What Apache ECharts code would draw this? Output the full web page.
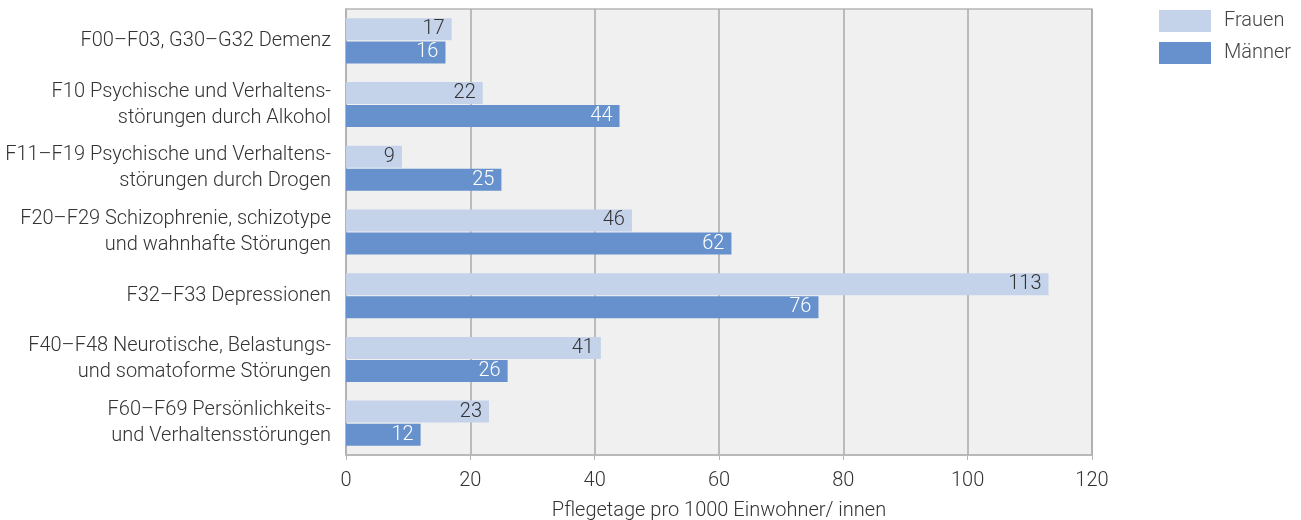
<!DOCTYPE html>
<html>
<head>
<meta charset="utf-8">
<script src="https://cdn.jsdelivr.net/npm/echarts@6/dist/echarts.min.js"></script>
<style>
  html, body { margin: 0; padding: 0; background: #fff; }
  #chart { width: 1301px; height: 520px; }
</style>
</head>
<body>
<div id="chart"></div>
<script>
// Diagnosegruppen (top to bottom)
const categories = [
  'F00\u2013F03, G30\u2013G32 Demenz',
  'F10 Psychische und Verhaltens-\nstörungen durch Alkohol',
  'F11\u2013F19 Psychische und Verhaltens-\nstörungen durch Drogen',
  'F20\u2013F29 Schizophrenie, schizotype\nund wahnhafte Störungen',
  'F32\u2013F33 Depressionen',
  'F40\u2013F48 Neurotische, Belastungs-\nund somatoforme Störungen',
  'F60\u2013F69 Persönlichkeits-\nund Verhaltensstörungen'
]
const frauen = [17, 22, 9, 46, 113, 41, 23]
const maenner = [16, 44, 25, 62, 76, 26, 12]
const xTicks = { min: 0, max: 120, interval: 20 }

const font = 'Roboto, "DejaVu Sans", sans-serif'
const fs = 20
const chart = echarts.init(document.getElementById('chart'))

chart.setOption({
  textStyle: { fontFamily: font, fontWeight: 300 },
  animation: false,
  legend: {
    data: ['Frauen', 'Männer'],
    orient: 'vertical',
    left: 1154,
    top: 5,
    itemWidth: 52,
    itemHeight: 22,
    itemGap: 10,
    icon: 'rect',
    textStyle: { fontSize: fs, fontWeight: 300, color: '#444', fontFamily: font, padding: [4, 0, 0, 8] }
  },
  grid: {
    left: 346,
    right: 209,
    top: 9,
    bottom: 65,
    outerBoundsMode: 'none',
    show: true,
    backgroundColor: '#f0f0f0',
    borderColor: '#b5b5b5',
    borderWidth: 1.5
  },
  xAxis: {
    type: 'value',
    min: xTicks.min,
    max: xTicks.max,
    interval: xTicks.interval,
    name: 'Pflegetage pro 1000 Einwohner/ innen',
    nameLocation: 'middle',
    nameGap: 46,
    nameTextStyle: { fontSize: fs, fontWeight: 300, color: '#333', fontFamily: font },
    axisLine: { show: true, lineStyle: { color: '#b5b5b5', width: 1.5 } },
    axisTick: { show: true, length: 5, lineStyle: { color: '#b5b5b5' } },
    axisLabel: { fontSize: fs, fontWeight: 300, color: '#333', margin: 16, fontFamily: font },
    splitLine: { show: true, lineStyle: { color: '#aaaaaa', width: 1.5 } }
  },
  yAxis: {
    type: 'category',
    data: categories,
    inverse: true,
    axisLine: { show: true, lineStyle: { color: '#b5b5b5', width: 1.5 } },
    axisTick: { show: false },
    axisLabel: {
      fontSize: fs,
      fontWeight: 300,
      color: '#333',
      lineHeight: 26,
      margin: 15,
      padding: [5, 0, 0, 0],
      align: 'right',
      fontFamily: font
    }
  },
  series: [
    {
      name: 'Frauen',
      type: 'bar',
      data: frauen,
      barWidth: 22,
      barGap: '5%',
      itemStyle: { color: '#c5d3ea' },
      label: {
        show: true,
        position: 'insideRight',
        distance: 7,
        color: '#333',
        fontSize: fs,
        fontWeight: 300,
        fontFamily: font
      }
    },
    {
      name: 'Männer',
      type: 'bar',
      data: maenner,
      barWidth: 22,
      itemStyle: { color: '#6691cc' },
      label: {
        show: true,
        position: 'insideRight',
        distance: 7,
        color: '#fff',
        fontSize: fs,
        fontWeight: 300,
        fontFamily: font
      }
    }
  ]
})
</script>
</body>
</html>
